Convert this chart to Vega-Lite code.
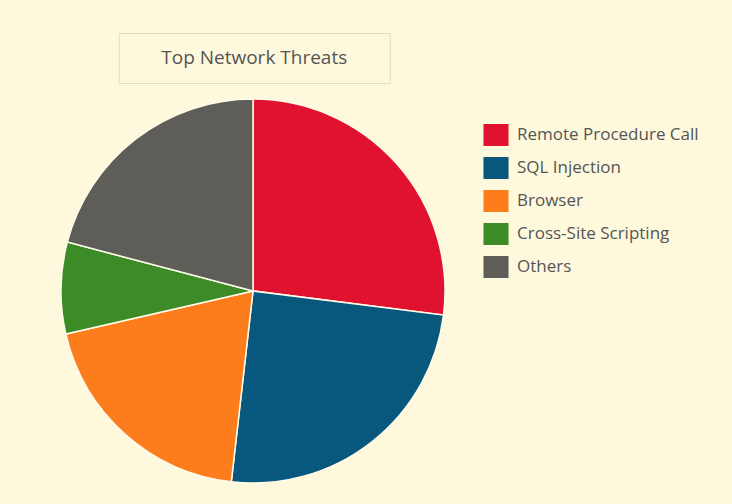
{
  "$schema": "https://vega.github.io/schema/vega-lite/v6.json",
  "background": "#FEF9DC",
  "padding": {"left": 58, "top": 32, "right": 33, "bottom": 26},
  "autosize": {"type": "pad"},
  "config": {"font": "Open Sans", "view": {"stroke": null}},
  "center": true,
  "spacing": 12,
  "vconcat": [
    {
      "width": 271,
      "height": 50,
      "view": {"stroke": "#E3DCC0", "strokeWidth": 1},
      "data": {"values": [{"title": "Top Network Threats"}]},
      "mark": {"type": "text", "fontSize": 19, "color": "#555555"},
      "encoding": {"text": {"field": "title", "type": "nominal"}}
    },
    {
      "width": 384,
      "height": 384,
      "data": {
        "values": [
          {"threat": "Remote Procedure Call", "share": 27.0, "rank": 1},
          {"threat": "SQL Injection", "share": 24.8, "rank": 2},
          {"threat": "Browser", "share": 19.6, "rank": 3},
          {"threat": "Cross-Site Scripting", "share": 7.7, "rank": 4},
          {"threat": "Others", "share": 20.9, "rank": 5}
        ]
      },
      "mark": {"type": "arc", "stroke": "#FFFBEA", "strokeWidth": 1.5},
      "encoding": {
        "theta": {"field": "share", "type": "quantitative", "stack": true},
        "order": {"field": "rank", "type": "quantitative"},
        "color": {
          "field": "threat",
          "type": "nominal",
          "scale": {
            "domain": ["Remote Procedure Call", "SQL Injection", "Browser", "Cross-Site Scripting", "Others"],
            "range": ["#E1122F", "#07587C", "#FD7D1C", "#3C8B26", "#5E5D58"]
          },
          "legend": {
            "title": null,
            "orient": "none",
            "legendX": 424,
            "legendY": 91,
            "padding": 0,
            "symbolType": "M-1.14,-1H1.14V1H-1.14Z",
            "symbolSize": 484,
            "symbolStrokeWidth": 0,
            "symbolOpacity": 1,
            "labelFontSize": 17,
            "labelColor": "#555555",
            "labelOffset": 10,
            "labelLimit": 400,
            "rowPadding": 11
          }
        }
      }
    }
  ]
}
